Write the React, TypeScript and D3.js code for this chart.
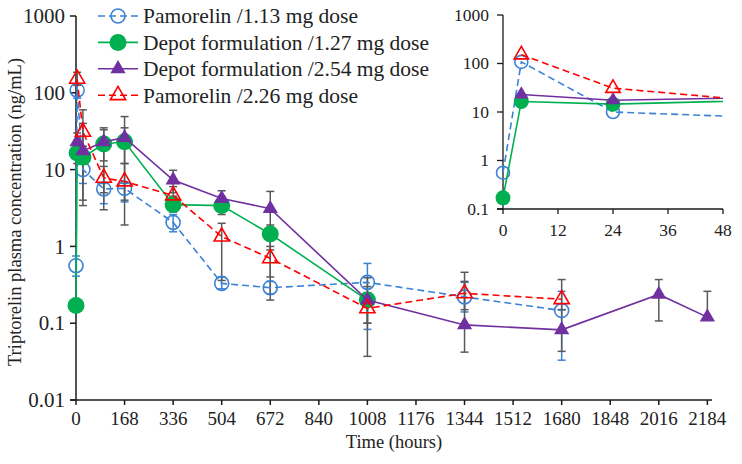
import React from "react";
import * as d3 from "d3";

// ---- data ----
const blueT = [0, 4, 24, 96, 168, 336, 504, 672, 1008, 1344, 1680];
const blueV = [0.56, 108, 10, 5.6, 5.7, 2.05, 0.33, 0.29, 0.34, 0.22, 0.146];
const blueHi = [0.75, 130, 13, 6.6, 6.6, 2.6, 0.4, 0.35, 0.6, 0.34, 0.26];
const blueLo = [0.41, 85, 6.6, 3.6, 3.8, 1.55, 0.28, 0.24, 0.083, 0.14, 0.033];

const greenT = [0, 4, 24, 96, 168, 336, 504, 672, 1008];
const greenV = [0.17, 16.5, 14.5, 21.5, 23, 3.5, 3.4, 1.45, 0.2];
const greenHi = [0.17, 22, 20, 33, 35, 4.5, 4.5, 1.9, 0.3];
const greenLo = [0.17, 12, 4, 13, 12, 2.8, 2.6, 0.9, 0.1];

const purpleT = [4, 24, 96, 168, 336, 504, 672, 1008, 1344, 1680, 2016, 2184];
const purpleV = [23, 17.5, 23, 26, 7.3, 4.2, 3.1, 0.2, 0.095, 0.082, 0.237, 0.12];
const purpleHi = [30, 60, 35, 49, 9.8, 5.3, 5.2, 0.39, 0.46, 0.15, 0.37, 0.26];
const purpleLo = [16, 3.4, 3, 1.9, 5, 3, 0.2, 0.037, 0.042, 0.043, 0.107, 0.11];

const redT = [4, 24, 96, 168, 336, 504, 672, 1008, 1344, 1680];
const redV = [152, 31, 7.8, 7, 4.6, 1.34, 0.7, 0.156, 0.245, 0.205];
const redHi = [185, 40, 11, 12, 6, 2, 1, 0.25, 0.35, 0.37];
const redLo = [125, 20, 5, 4, 3.5, 0.36, 0.4, 0.1, 0.15, 0.15];

const seriesNames = [
  "Pamorelin /1.13 mg dose",
  "Depot formulation /1.27 mg dose",
  "Depot formulation /2.54 mg dose",
  "Pamorelin /2.26 mg dose",
];

const mainXTicks = [0, 168, 336, 504, 672, 840, 1008, 1176, 1344, 1512, 1680, 1848, 2016, 2184];
const mainYTicks = [0.01, 0.1, 1, 10, 100, 1000];
const insetXTicks = [0, 12, 24, 36, 48];
const insetYTicks = [0.1, 1, 10, 100, 1000];

// ---- styles ----
const FONT = "'Liberation Serif', 'Times New Roman', serif";
const AXIS = "#1a1a1a";
const ERR = "#595959";

type Marker = "openCircle" | "filledCircle" | "filledTri" | "openTri";
interface Series {
  name: string;
  t: number[];
  v: number[];
  hi: number[];
  lo: number[];
  color: string;
  dash?: string;
  marker: Marker;
  errColor: string;
}

const series: Series[] = [
  { name: seriesNames[0], t: blueT, v: blueV, hi: blueHi, lo: blueLo, color: "#3b82d6", dash: "7,4", marker: "openCircle", errColor: "#3b82d6" },
  { name: seriesNames[1], t: greenT, v: greenV, hi: greenHi, lo: greenLo, color: "#00b050", marker: "filledCircle", errColor: ERR },
  { name: seriesNames[2], t: purpleT, v: purpleV, hi: purpleHi, lo: purpleLo, color: "#7030a0", marker: "filledTri", errColor: ERR },
  { name: seriesNames[3], t: redT, v: redV, hi: redHi, lo: redLo, color: "#ff0000", dash: "7,4", marker: "openTri", errColor: ERR },
];

const triPath = d3.symbol().type(d3.symbolTriangle).size(100)() as string;
const triPathSmall = d3.symbol().type(d3.symbolTriangle).size(90)() as string;

function MarkerShape({ m, x, y, color, small }: { m: Marker; x: number; y: number; color: string; small?: boolean }) {
  const tp = small ? triPathSmall : triPath;
  switch (m) {
    case "openCircle":
      return <circle cx={x} cy={y} r={small ? 6.5 : 7} fill="none" stroke={color} strokeWidth={1.6} />;
    case "filledCircle":
      return <circle cx={x} cy={y} r={small ? 7.5 : 8.5} fill={color} />;
    case "filledTri":
      return <path d={tp} transform={`translate(${x},${y})`} fill={color} />;
    case "openTri":
      return <path d={tp} transform={`translate(${x},${y})`} fill="none" stroke={color} strokeWidth={1.6} />;
  }
}

export default function App() {
  // main chart
  const x = d3.scaleLinear().domain([0, 2200]).range([76, 712]);
  const y = d3.scaleLog().domain([0.01, 1000]).range([400, 16]);
  // inset
  const xi = d3.scaleLinear().domain([0, 48]).range([503, 723]);
  const yi = d3.scaleLog().domain([0.1, 1000]).range([209, 15]);

  const lineMain = (s: Series) =>
    d3.line<number>().x((_, i) => x(s.t[i])).y((d) => y(d))(s.v) as string;
  const lineInset = (s: Series) =>
    d3.line<number>().x((_, i) => xi(s.t[i])).y((d) => yi(d))(s.v) as string;

  return (
    <div style={{ position: "fixed", left: 0, top: 0 }}>
      <svg width={742} height={464} style={{ display: "block", background: "#fff" }} fontFamily={FONT}>
        <defs>
          <clipPath id="insetClip">
            <rect x={490} y={0} width={233} height={215} />
          </clipPath>
        </defs>

        {/* main axes */}
        <line x1={76} x2={76} y1={16} y2={400} stroke={AXIS} strokeWidth={1.5} />
        <line x1={70} x2={712} y1={400} y2={400} stroke={AXIS} strokeWidth={1.5} />
        {mainYTicks.map((t) => (
          <g key={"my" + t}>
            <line x1={70} x2={76} y1={y(t)} y2={y(t)} stroke={AXIS} strokeWidth={1.5} />
            <text x={65} y={y(t)} dy="0.34em" textAnchor="end" fontSize={21} fill="#222">
              {t}
            </text>
          </g>
        ))}
        {mainXTicks.map((t) => (
          <g key={"mx" + t}>
            <line x1={x(t)} x2={x(t)} y1={400} y2={405} stroke={AXIS} strokeWidth={1.5} />
            <text x={x(t)} y={425} textAnchor="middle" fontSize={19} fill="#222">
              {t}
            </text>
          </g>
        ))}
        <text x={394} y={448} textAnchor="middle" fontSize={18.5} fill="#222">
          Time (hours)
        </text>
        <text transform="translate(21,212) rotate(-90)" textAnchor="middle" fontSize={18.5} fill="#222">
          Triptorelin plasma concentration (ng/mL)
        </text>

        {/* error bars */}
        {series.map((s) => (
          <g key={"err" + s.name} stroke={s.errColor} strokeWidth={1.5}>
            {s.t.map((t, i) =>
              s.hi[i] === s.lo[i] ? null : (
                <g key={i}>
                  <line x1={x(t)} x2={x(t)} y1={y(s.hi[i])} y2={y(s.lo[i])} />
                  <line x1={x(t) - 4} x2={x(t) + 4} y1={y(s.hi[i])} y2={y(s.hi[i])} />
                  <line x1={x(t) - 4} x2={x(t) + 4} y1={y(s.lo[i])} y2={y(s.lo[i])} />
                </g>
              )
            )}
          </g>
        ))}

        {/* lines and markers */}
        {series.map((s) => (
          <g key={"s" + s.name}>
            <path d={lineMain(s)} fill="none" stroke={s.color} strokeWidth={1.6} strokeDasharray={s.dash} />
            {s.t.map((t, i) => (
              <MarkerShape key={i} m={s.marker} x={x(t)} y={y(s.v[i])} color={s.color} />
            ))}
          </g>
        ))}

        {/* legend */}
        {series.map((s, i) => {
          const ly = 16 + i * 26.4;
          return (
            <g key={"lg" + s.name}>
              <line x1={98} x2={138} y1={ly} y2={ly} stroke={s.color} strokeWidth={1.6} strokeDasharray={s.dash} />
              <MarkerShape m={s.marker} x={118} y={ly} color={s.color} />
              <text x={143} y={ly} dy="0.34em" fontSize={21.5} fill="#222">
                {s.name}
              </text>
            </g>
          );
        })}

        {/* inset axes */}
        <line x1={503} x2={503} y1={15} y2={209} stroke={AXIS} strokeWidth={1.3} />
        <line x1={497} x2={723} y1={209} y2={209} stroke={AXIS} strokeWidth={1.3} />
        {insetYTicks.map((t) => (
          <g key={"iy" + t}>
            <line x1={497} x2={503} y1={yi(t)} y2={yi(t)} stroke={AXIS} strokeWidth={1.3} />
            <text x={489} y={yi(t)} dy="0.34em" textAnchor="end" fontSize={17.5} fill="#222">
              {t}
            </text>
          </g>
        ))}
        {insetXTicks.map((t) => (
          <g key={"ix" + t}>
            <line x1={xi(t)} x2={xi(t)} y1={209} y2={214} stroke={AXIS} strokeWidth={1.3} />
            <text x={xi(t)} y={236} textAnchor="middle" fontSize={17.5} fill="#222">
              {t}
            </text>
          </g>
        ))}
        <g clipPath="url(#insetClip)">
          {series.map((s) => (
            <g key={"is" + s.name}>
              <path d={lineInset(s)} fill="none" stroke={s.color} strokeWidth={1.6} strokeDasharray={s.dash} />
              {s.t.map((t, i) =>
                t <= 48 ? (
                  <MarkerShape key={i} m={s.marker} x={xi(t)} y={yi(s.v[i])} color={s.color} small />
                ) : null
              )}
            </g>
          ))}
        </g>
      </svg>
    </div>
  );
}
